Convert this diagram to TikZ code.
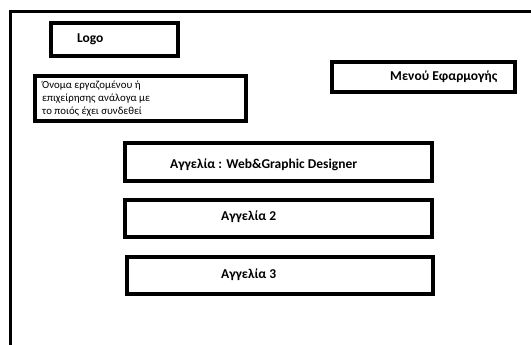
\documentclass[tikz,border=0pt]{standalone}
\usepackage{fontspec}
\setmainfont{Carlito}
\begin{document}
\begin{tikzpicture}[x=1pt,y=-1pt,
  boxstyle/.style={draw=black,line width=3.5pt},
  lbl/.style={font=\bfseries\fontsize{13.5}{15}\selectfont,inner sep=0pt,anchor=west}]
\useasboundingbox (0,0) rectangle (531,345);
\fill[white] (0,0) rectangle (531,345);
\draw[line width=3pt] (10.5,345) -- (10.5,11.5) -- (531,11.5);
\node[boxstyle,minimum width=127pt,minimum height=33pt,inner sep=0pt] (logo) at (114.5,39.5) {};
\node[lbl] (logotxt) at (77,39) {Logo};
\node[boxstyle,minimum width=211pt,minimum height=45pt,inner sep=0pt] (name) at (140.5,98.5) {};
\node[inner sep=0pt,anchor=north west,align=left,font=\fontsize{10.8}{13}\selectfont] (nametxt) at (42,81) {Όνομα εργαζομένου ή\\επιχείρησης ανάλογα με\\το ποιός έχει συνδεθεί};
\node[boxstyle,minimum width=183pt,minimum height=30pt,inner sep=0pt] (menu) at (423.5,77) {};
\node[lbl] (menutxt) at (390,77) {Μενού Εφαρμογής};
\node[boxstyle,minimum width=307pt,minimum height=38pt,inner sep=0pt] (ad1) at (278.5,162) {};
\node[lbl] (ad1txt) at (170,164.5) {Αγγελία : Web\&Graphic Designer};
\node[boxstyle,minimum width=307pt,minimum height=37pt,inner sep=0pt] (ad2) at (278.5,218.5) {};
\node[lbl] (ad2txt) at (221,217) {Αγγελία 2};
\node[boxstyle,minimum width=306pt,minimum height=37pt,inner sep=0pt] (ad3) at (280,275.5) {};
\node[lbl] (ad3txt) at (221,275) {Αγγελία 3};
\end{tikzpicture}
\end{document}
